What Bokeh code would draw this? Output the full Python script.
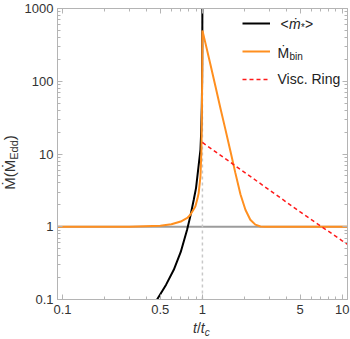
from bokeh.plotting import figure
from bokeh.models import (Range1d, LogAxis, FixedTicker, Span, Label, Legend,
                          LegendItem, CustomJSTickFormatter, Div)
from bokeh.layouts import column, row
from bokeh.embed import file_html
from bokeh.resources import INLINE

# ---------------- data ----------------
black_t = [0.44, 0.474, 0.55, 0.624, 0.70, 0.777, 0.82, 0.867, 0.90, 0.94,
           0.968, 0.98, 0.99, 0.995, 0.998, 0.9995]
black_v = [0.08, 0.1, 0.16, 0.256, 0.45, 0.91, 1.4, 2.35, 3.4, 7.0,
           11.4, 20, 45, 100, 300, 1200]

orange_t = [0.09, 0.3, 0.5, 0.6, 0.7, 0.78, 0.82, 0.86, 0.89, 0.92, 0.94,
            0.968, 0.984, 0.992, 0.997, 1.0, 1.05, 1.14, 1.238, 1.344, 1.46,
            1.585, 1.72, 1.87, 2.03, 2.2, 2.39, 2.6, 2.8, 11]
orange_v = [1.0, 1.0, 1.03, 1.08, 1.18, 1.32, 1.46, 1.7, 1.9, 2.4, 2.9,
            4.9, 11.4, 40, 150, 500, 337, 171, 86, 43, 21.8,
            11, 5.5, 2.8, 1.71, 1.25, 1.07, 1.01, 1.0, 1.0]

red_t = [1, 2, 5, 10, 11]
red_v = [14.4, 5.6, 1.6, 0.64, 0.57]

ref_level = 1.0      # horizontal gray line
ref_time = 1.0       # vertical dashed line

x_ticks = [0.1, 0.5, 1, 5, 10]
x_tick_labels = ["0.1", "0.5", "1", "5", "10"]
x_minor = [0.2, 0.3, 0.4, 0.6, 0.7, 0.8, 0.9, 2, 3, 4, 6, 7, 8, 9]
y_ticks = [0.1, 1, 10, 100, 1000]
y_tick_labels = ["0.1", "1", "10", "100", "1000"]
y_minor = [m * d for d in (0.1, 1, 10, 100) for m in range(2, 10)]

# ---------------- figure ----------------
FONT = "Liberation Sans"
FRAME = "#b4b4b4"
TXT = "#333333"

p = figure(width=329, height=318, x_axis_type="log", y_axis_type="log",
           x_range=Range1d(0.092, 10.9), y_range=Range1d(0.1, 1000),
           output_backend="svg", toolbar_location=None,
           min_border_left=36, min_border_right=3, min_border_top=8,
           min_border_bottom=19, margin=(0, 0, 0, 0))
p.grid.visible = False
p.outline_line_color = FRAME
p.background_fill_color = "white"
p.border_fill_color = "white"


def style_axis(ax, labels=True):
    ax.axis_line_color = FRAME
    ax.major_tick_line_color = FRAME
    ax.minor_tick_line_color = FRAME
    ax.major_tick_in = 5
    ax.major_tick_out = 0
    ax.minor_tick_in = 3
    ax.minor_tick_out = 0
    ax.major_label_text_font = FONT
    ax.major_label_text_font_size = "13px"
    ax.major_label_text_color = TXT
    if not labels:
        ax.formatter = CustomJSTickFormatter(code="return ''")
        ax.major_label_standoff = 0


p.xaxis.ticker = FixedTicker(ticks=x_ticks, minor_ticks=x_minor)
p.xaxis.major_label_overrides = dict(zip(x_ticks, x_tick_labels))
p.yaxis.ticker = FixedTicker(ticks=y_ticks, minor_ticks=y_minor)
p.yaxis.major_label_overrides = dict(zip(y_ticks, y_tick_labels))
style_axis(p.xaxis[0])
style_axis(p.yaxis[0])
p.xaxis.major_label_standoff = 5
p.yaxis.major_label_standoff = 4

top = LogAxis(ticker=FixedTicker(ticks=x_ticks, minor_ticks=x_minor))
right = LogAxis(ticker=FixedTicker(ticks=y_ticks, minor_ticks=y_minor))
style_axis(top, labels=False)
style_axis(right, labels=False)
p.add_layout(top, "above")
p.add_layout(right, "right")

# reference lines
p.add_layout(Span(location=ref_level, dimension="width", line_color="#9c9c9c",
                  line_width=2, level="underlay"))
p.add_layout(Span(location=ref_time, dimension="height", line_color="#c8c8c8",
                  line_width=1.5, line_dash="3 3", level="underlay"))

r_black = p.line(black_t, black_v, line_color="black", line_width=2)
r_orange = p.line(orange_t, orange_v, line_color="#ff8f1f", line_width=2)
r_red = p.line(red_t, red_v, line_color="#ff1a1a", line_width=1.5,
               line_dash="4 3")

legend = Legend(items=[LegendItem(label=" ", renderers=[r_black]),
                       LegendItem(label=" ", renderers=[r_orange]),
                       LegendItem(label=" ", renderers=[r_red])],
                location=(185, 210), glyph_width=28, glyph_height=20,
                label_height=20, label_width=0, label_standoff=0, spacing=8,
                padding=0, margin=0, border_line_color=None,
                background_fill_alpha=0, label_text_font_size="1px")
p.add_layout(legend)

# ---------------- legend texts (page pixels -> frame-relative) ----------------
OX, OY = 57, 299   # plot frame left / bottom in page pixels (label origin)


def put(text, px, py, size=14, style="normal"):
    p.add_layout(Label(x=px - OX, y=OY - py, x_units="screen",
                       y_units="screen", text=text, text_font=FONT,
                       text_font_size=f"{size}px", text_font_style=style,
                       text_align="left", text_baseline="middle",
                       text_color="#222222"))


put("<", 280, 23)
put("ṁ", 288.5, 23, style="italic")
put("*", 300, 27, size=10, style="italic")
put(">", 304.5, 23)
put("Ṁ", 277, 52)
put("bin", 289, 56, size=10)
put("Visc. Ring", 277, 78)

# ---------------- axis labels as HTML text ----------------
ylab = Div(width=21, height=318, margin=(0, 0, 0, 0), text=(
    '<div style="width:21px;height:318px;display:flex;align-items:center;'
    'justify-content:center;overflow:visible;">'
    '<span style="display:inline-block;transform:rotate(-90deg);'
    'white-space:nowrap;position:relative;top:3px;'
    f'font-family:\'{FONT}\';font-size:15px;color:{TXT};line-height:15px;">'
    'Ṁ(Ṁ<span style="font-size:11px;position:relative;top:3px;">Edd</span>)'
    '</span></div>'))

xlab = Div(width=350, height=21, margin=(0, 0, 0, 0), text=(
    '<div style="width:350px;height:21px;position:relative;">'
    '<span style="position:absolute;left:193px;top:2px;white-space:nowrap;'
    f'font-family:\'{FONT}\';font-size:14px;color:{TXT};line-height:16px;">'
    '<i>t</i>/<i>t</i><span style="font-size:10px;position:relative;top:3px;">'
    '<i>c</i></span></span></div>'))

layout = column(row(ylab, p, spacing=0), xlab, spacing=0)

open("out.html", "w").write(file_html(layout, INLINE))
